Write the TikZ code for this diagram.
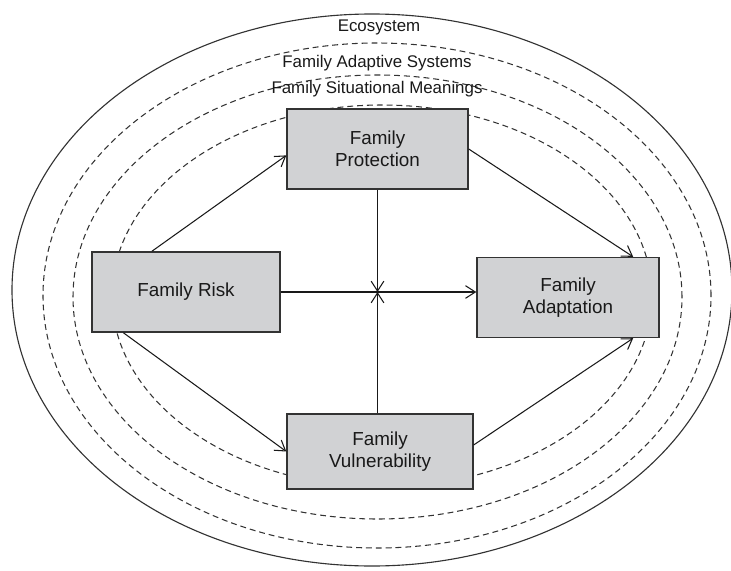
\documentclass[tikz,border=0pt]{standalone}
\usepackage{fontspec}
\setmainfont{Liberation Sans}
\usetikzlibrary{arrows.meta}
\definecolor{boxgray}{RGB}{209,210,212}
\tikzset{
  famblock/.style={draw=black!80, line width=1pt, fill=boxgray, align=center,
    minimum width=4.6cm, minimum height=2cm, inner sep=2pt,
    font=\fontsize{13.4}{16}\selectfont, text=black!90},
  ring/.style={dash pattern=on 4.2pt off 2.8pt, line width=0.75pt, draw=black!80},
  ringlabel/.style={font=\fontsize{12}{14}\selectfont, text=black!90},
  flow/.style={-{Straight Barb[length=7pt,width=9pt]}, line width=0.75pt, black!90}
}

\begin{document}
\begin{tikzpicture}
\useasboundingbox (0,0) rectangle (18.275,14.25);
% nested contexts
\draw[line width=0.8pt, black!80] (9.3,7.0) ellipse (9.0 and 6.9);
\draw[ring] (9.425,6.8625) ellipse (8.35 and 6.3125);
\draw[ring] (9.4375,6.825) ellipse (7.6125 and 5.55);
\draw[ring] (9.55,6.85) ellipse (6.75 and 4.775);
\node[ringlabel] (eco) at (9.475,13.575) {Ecosystem};
\node[ringlabel] (fas) at (9.425,12.675) {Family Adaptive Systems};
\node[ringlabel] (fsm) at (9.425,12.025) {Family Situational Meanings};
% boxes
\node[famblock, minimum width=4.7cm] (risk) at (4.65,6.95) {Family Risk};
\node[famblock, minimum width=4.525cm] (prot) at (9.4375,10.525) {Family\\Protection};
\node[famblock, minimum width=4.55cm] (adapt) at (14.2,6.8125) {Family\\Adaptation};
\node[famblock, minimum width=4.65cm, minimum height=1.875cm] (vuln) at (9.5,2.9625) {Family\\Vulnerability};
\coordinate (cross) at (prot.south |- risk.east);
% links
\draw[flow] (risk.130) -- (prot.184);
\draw[flow] (risk.213) -- (vuln.west);
\draw[flow] (prot.east) -- (adapt.32);
\draw[flow] (vuln.4) -- (adapt.-32);
\draw[flow] (risk.east) -- (risk.east -| adapt.west);
\draw[flow] (prot.south) -- (cross);
\draw[flow] (vuln.north -| cross) -- (cross);
\end{tikzpicture}
\end{document}
